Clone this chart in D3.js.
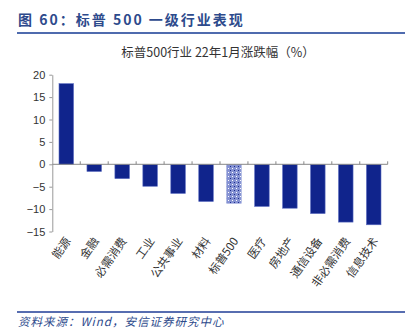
<!DOCTYPE html>
<html><head><meta charset="utf-8">
<script src="https://cdn.jsdelivr.net/npm/d3@7"></script>
<style>body{margin:0;background:#fff}svg{display:block}</style>
</head><body>
<script>
const categories = ["能源","金融","必需消费","工业","公共事业","材料","标普500","医疗","房地产","通信设备","非必需消费","信息技术"];
const values = [18.0,-1.6,-3.2,-4.9,-6.5,-8.3,-8.7,-9.4,-9.8,-11.0,-12.9,-13.5];
const yTicks = [20,15,10,5,0,-5,-10,-15];
const highlight = "标普500";

const W=410,H=329;
const svg=d3.select("body").append("svg").attr("width",W).attr("height",H);
const font="'Noto Sans CJK SC','Noto Sans',sans-serif";

const defs=svg.append("defs");
const pat=defs.append("pattern").attr("id","chk").attr("width",4).attr("height",4).attr("patternUnits","userSpaceOnUse");
pat.append("rect").attr("width",4).attr("height",4).attr("fill","#8592D2");
pat.append("rect").attr("x",0).attr("y",0).attr("width",1).attr("height",1).attr("fill","#fff");
pat.append("rect").attr("x",2).attr("y",2).attr("width",1).attr("height",1).attr("fill","#1a2a8f");

// header
svg.append("text").attr("x",18).attr("y",25).attr("font-family",font).attr("font-weight","bold")
  .attr("font-size",14).attr("fill","#2D4A8C").attr("letter-spacing",2).text("图 60：标普 500 一级行业表现");
svg.append("line").attr("x1",17).attr("x2",405).attr("y1",33).attr("y2",33).attr("stroke","#4F6BAE").attr("stroke-width",2);
svg.append("text").attr("x",218).attr("y",56.5).attr("text-anchor","middle").attr("font-family",font)
  .attr("font-size",12.5).attr("fill","#333").text("标普500行业 22年1月涨跌幅（%）");

const x=d3.scaleBand().domain(categories).range([52.3,387.7]).paddingInner(0.48).paddingOuter(0.24);
const y=d3.scaleLinear().domain([-15,20]).range([231.5,74.7]);

// y axis
const ya=svg.append("g").attr("transform","translate(52.3,0)")
  .call(d3.axisLeft(y).tickValues(yTicks).tickSize(3).tickSizeOuter(0).tickPadding(4));
ya.select(".domain").attr("stroke","#999");
ya.selectAll(".tick line").attr("stroke","#999");
ya.selectAll("text").attr("font-family","Arial, 'Liberation Sans', sans-serif").attr("font-size",11).attr("fill","#333");

// bars
svg.selectAll("rect.bar").data(categories).join("rect").attr("class","bar")
  .attr("x",d=>x(d)).attr("width",x.bandwidth())
  .attr("y",(d,i)=>y(Math.max(0,values[i])))
  .attr("height",(d,i)=>Math.abs(y(values[i])-y(0)))
  .attr("fill",d=>d===highlight?"url(#chk)":"#10248C")
  .attr("stroke",d=>d===highlight?"#9AA6DC":"#5A6BC0").attr("stroke-width",0.6);

// x axis at zero
const x0=52.3, x1=387.7;
svg.append("line").attr("x1",x0).attr("x2",x1).attr("y1",y(0)).attr("y2",y(0)).attr("stroke","#888");
svg.selectAll("line.xt").data(d3.range(1,categories.length+1)).join("line").attr("class","xt")
  .attr("x1",i=>x0+i*(x1-x0)/categories.length).attr("x2",i=>x0+i*(x1-x0)/categories.length)
  .attr("y1",y(0)).attr("y2",y(0)-3).attr("stroke","#888");

// category labels
svg.selectAll("text.cat").data(categories).join("text").attr("class","cat")
  .attr("transform",d=>`translate(${x(d)+x.bandwidth()/2+5},${241}) rotate(-55)`)
  .attr("text-anchor","end").attr("font-family",font).attr("font-size",11.5).attr("fill","#333").text(d=>d);

// footer
svg.append("line").attr("x1",17).attr("x2",405).attr("y1",312).attr("y2",312).attr("stroke","#1F3C96").attr("stroke-width",1.3);
svg.append("text").attr("x",18).attr("y",326).attr("font-family",font).attr("font-style","italic")
  .attr("font-size",11.5).attr("letter-spacing",1).attr("fill","#2D4A8C").text("资料来源：Wind，安信证券研究中心");
</script>
</body></html>
